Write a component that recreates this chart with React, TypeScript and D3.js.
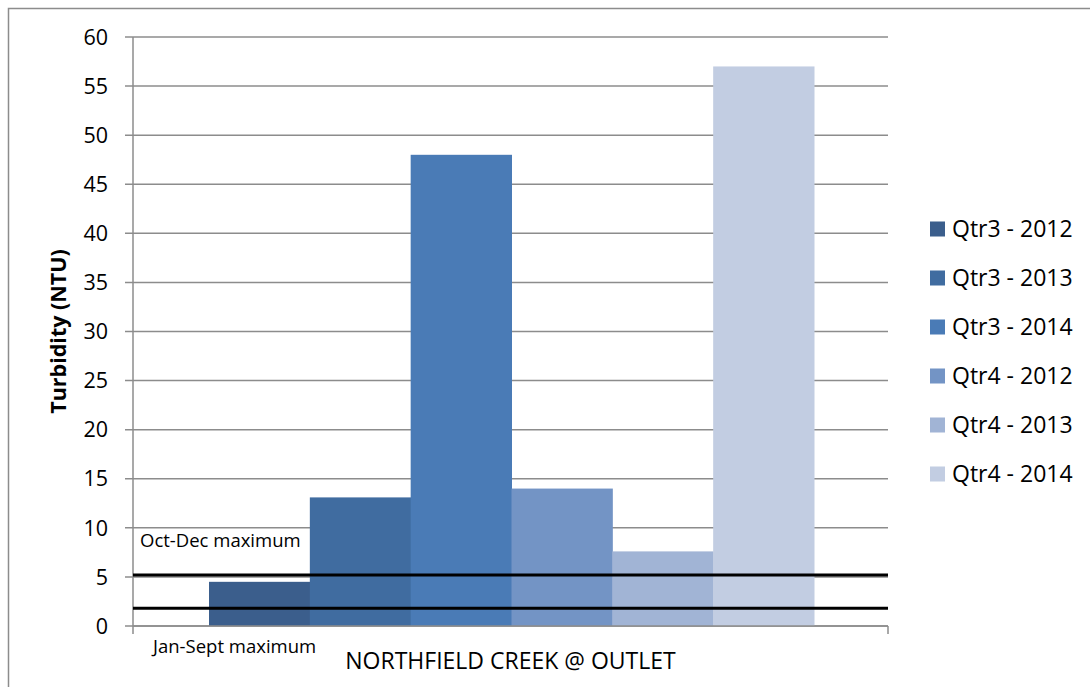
import React from "react";
import * as d3 from "d3";

const seriesNames = ["Qtr3 - 2012", "Qtr3 - 2013", "Qtr3 - 2014", "Qtr4 - 2012", "Qtr4 - 2013", "Qtr4 - 2014"];
const seriesValues = [4.5, 13.1, 48, 14, 7.6, 57];
const seriesColors = ["#3b5e8c", "#406ca0", "#4a7bb6", "#7394c5", "#a1b4d5", "#c2cde2"];
const yTicks = [0, 5, 10, 15, 20, 25, 30, 35, 40, 45, 50, 55, 60];
const category = "NORTHFIELD CREEK @ OUTLET";
const thresholds = [
  { label: "Oct-Dec maximum", value: 5.2 },
  { label: "Jan-Sept maximum", value: 1.8 },
];

const W = 1090;
const H = 687;
const plot = { left: 133, right: 888, top: 37, bottom: 626 };
const font = "'Open Sans', 'Noto Sans', sans-serif";

export default function App() {
  const y = d3.scaleLinear().domain([0, 60]).range([plot.bottom, plot.top]);
  const xCat = d3.scaleBand().domain([category]).range([plot.left, plot.right]).paddingInner(0).paddingOuter(0.1);
  const groupStart = plot.left + 76;
  const groupEnd = plot.right - 74;
  const xSeries = d3.scaleBand().domain(seriesNames).range([groupStart, groupEnd]);
  const grid = "#8c8c8c";

  return (
    <svg width={W} height={H} style={{ position: "absolute", left: 0, top: 0 }}>
      <rect x={0} y={0} width={W} height={H} fill="#fff" />
      <rect x={8.5} y={8.5} width={W + 10} height={H + 10} fill="none" stroke="#8c8c8c" strokeWidth={1.5} />
      {/* gridlines and y ticks */}
      {yTicks.map((t) => (
        <g key={t}>
          <line x1={plot.left - 8} x2={plot.right} y1={y(t)} y2={y(t)} stroke={grid} strokeWidth={1.5} />
          <text x={108} y={y(t)} dy="0.36em" textAnchor="end" fontFamily={font} fontSize={21.5} fill="#000">
            {t}
          </text>
        </g>
      ))}
      {/* bars */}
      {seriesNames.map((s, i) => (
        <rect
          key={s}
          x={xSeries(s)}
          y={y(seriesValues[i])}
          width={xSeries.bandwidth() + 0.5}
          height={y(0) - y(seriesValues[i])}
          fill={seriesColors[i]}
        />
      ))}
      {/* axes */}
      <line x1={plot.left} x2={plot.left} y1={plot.top} y2={plot.bottom + 8} stroke={grid} strokeWidth={1.5} />
      <line x1={plot.left} x2={plot.right} y1={plot.bottom} y2={plot.bottom} stroke={grid} strokeWidth={1.5} />
      <line x1={plot.right} x2={plot.right} y1={plot.bottom} y2={plot.bottom + 8} stroke={grid} strokeWidth={1.5} />
      {/* threshold lines */}
      {thresholds.map((t) => (
        <line key={t.label} x1={plot.left} x2={plot.right} y1={y(t.value)} y2={y(t.value)} stroke="#000" strokeWidth={3} />
      ))}
      <text x={140} y={547} fontFamily={font} fontSize={18.5} fill="#000">
        {thresholds[0].label}
      </text>
      <text x={153} y={653} fontFamily={font} fontSize={18.5} fill="#000">
        {thresholds[1].label}
      </text>
      {/* axis titles */}
      <text
        x={(xCat(category) ?? 0) + xCat.bandwidth() / 2}
        y={669}
        textAnchor="middle"
        fontFamily={font}
        fontSize={23}
        fill="#000"
      >
        {category}
      </text>
      <text
        transform={`translate(66, ${(plot.top + plot.bottom) / 2}) rotate(-90)`}
        textAnchor="middle"
        fontFamily={font}
        fontSize={21.5}
        fontWeight="bold"
        fill="#000"
      >
        Turbidity (NTU)
      </text>
      {/* legend */}
      {seriesNames.map((s, i) => {
        const cy = 229 + i * 49;
        return (
          <g key={s}>
            <rect x={930} y={cy - 7.5} width={15} height={15} fill={seriesColors[i]} />
            <text x={952} y={cy} dy="0.36em" fontFamily={font} fontSize={23} fill="#000">
              {s}
            </text>
          </g>
        );
      })}
    </svg>
  );
}
